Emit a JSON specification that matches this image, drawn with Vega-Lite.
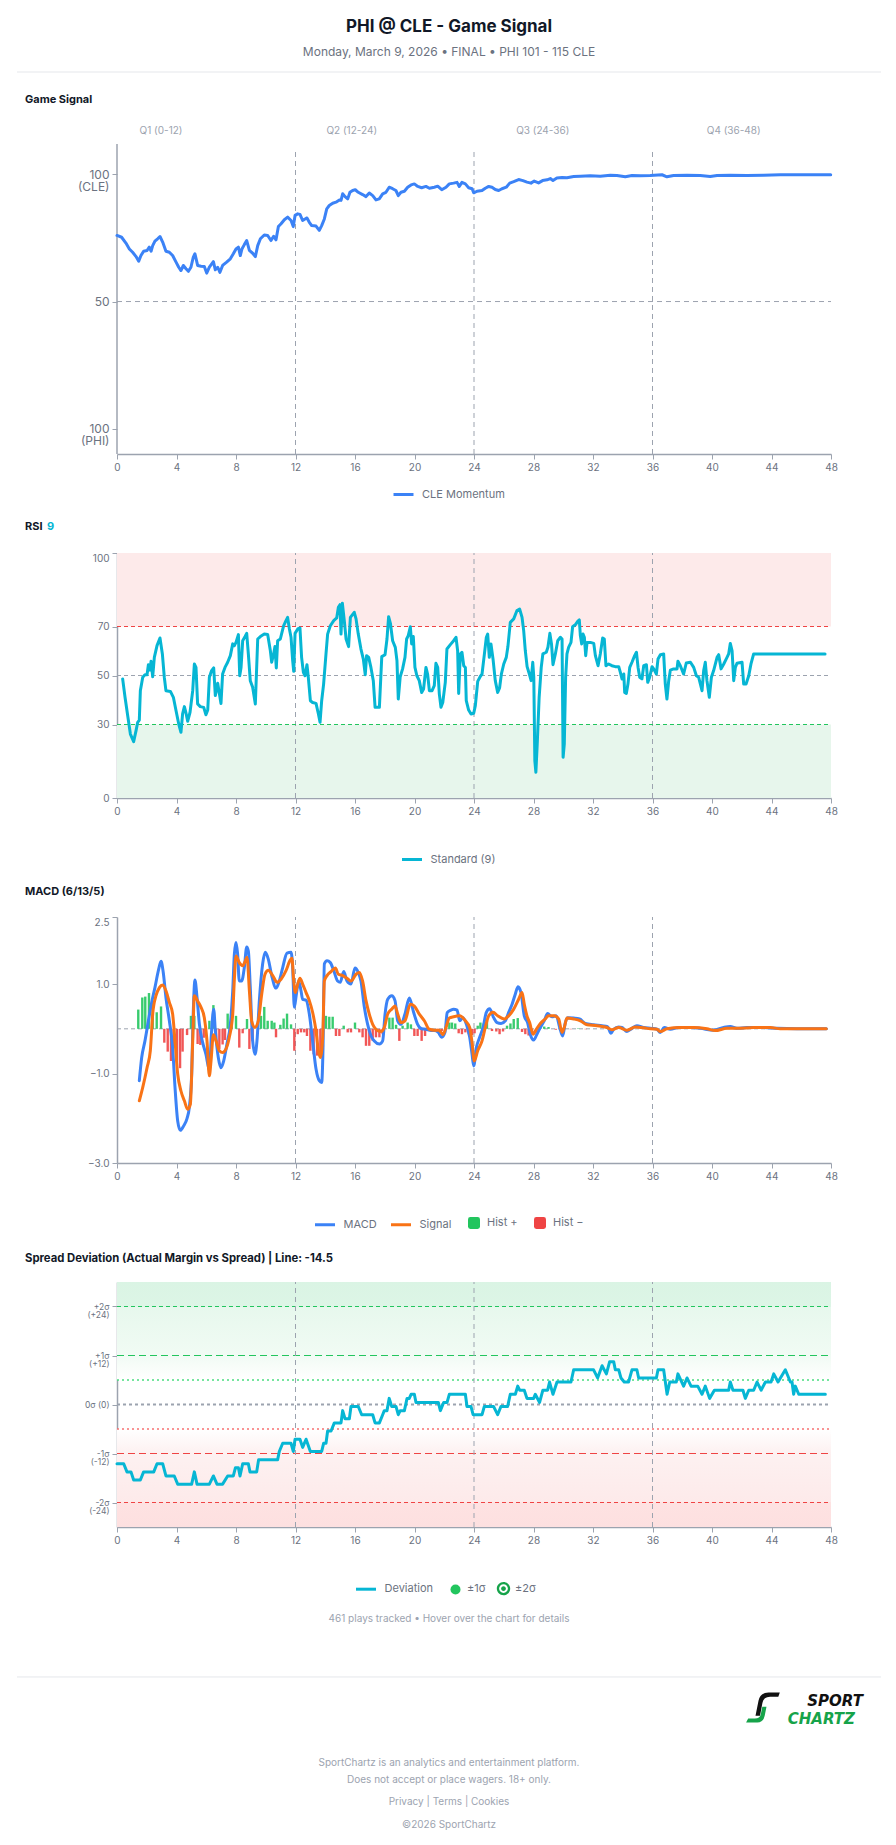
{
  "$schema": "https://vega.github.io/schema/vega-lite/v6.json",
  "background": "#ffffff",
  "padding": {"left": 16, "top": 18, "right": 16, "bottom": 12},
  "config": {
    "font": "Inter",
    "view": {"stroke": null},
    "axis": {"domainColor": "#9ca3af", "domainWidth": 1.5, "tickColor": "#9ca3af", "tickWidth": 1, "tickSize": 5, "labelColor": "#6b7280", "labelFontSize": 10, "labelPadding": 3, "grid": false, "labelFlush": false, "labelOverlap": false},
    "legend": {"labelColor": "#6b7280", "labelFontSize": 11, "padding": 0, "labelOffset": 7, "labelLimit": 0}
  },
  "resolve": {
    "scale": {"color": "independent", "stroke": "independent", "fill": "independent", "shape": "independent"},
    "legend": {"color": "independent", "stroke": "independent", "fill": "independent", "shape": "independent"}
  },
  "datasets": {
    "quarters": [
      {"label": "Q1 (0-12)", "at": 2.96},
      {"label": "Q2 (12-24)", "at": 15.78},
      {"label": "Q3 (24-36)", "at": 28.62},
      {"label": "Q4 (36-48)", "at": 41.46}
    ],
    "breaks": [{"t": 12}, {"t": 24}, {"t": 36}],
    "signal": [
      {"t":0,"v":76.0},{"t":0.31,"v":75.3},{"t":0.6,"v":73.0},{"t":0.83,"v":70.7},{"t":1.05,"v":69.4},{"t":1.28,"v":67.7},{"t":1.46,"v":65.9},{"t":1.61,"v":68.1},{"t":1.79,"v":69.8},{"t":2.02,"v":70.1},{"t":2.17,"v":71.4},{"t":2.29,"v":69.8},{"t":2.4,"v":72.0},{"t":2.55,"v":73.8},{"t":2.73,"v":74.7},{"t":2.89,"v":75.6},{"t":3.07,"v":73.4},{"t":3.29,"v":69.8},{"t":3.52,"v":69.4},{"t":3.74,"v":68.1},{"t":3.97,"v":65.5},{"t":4.15,"v":63.5},{"t":4.3,"v":62.2},{"t":4.46,"v":64.2},{"t":4.64,"v":62.9},{"t":4.8,"v":61.9},{"t":4.97,"v":63.5},{"t":5.13,"v":67.5},{"t":5.24,"v":68.8},{"t":5.42,"v":64.2},{"t":5.65,"v":63.9},{"t":5.87,"v":63.8},{"t":6.03,"v":61.2},{"t":6.21,"v":63.5},{"t":6.48,"v":65.7},{"t":6.61,"v":62.5},{"t":6.77,"v":63.5},{"t":6.92,"v":61.5},{"t":7.1,"v":64.2},{"t":7.37,"v":65.5},{"t":7.62,"v":66.8},{"t":7.82,"v":68.8},{"t":8.0,"v":70.7},{"t":8.16,"v":71.4},{"t":8.29,"v":68.1},{"t":8.4,"v":70.7},{"t":8.56,"v":72.4},{"t":8.72,"v":74.0},{"t":8.9,"v":70.1},{"t":9.12,"v":69.0},{"t":9.3,"v":67.7},{"t":9.46,"v":72.0},{"t":9.64,"v":74.7},{"t":9.9,"v":76.2},{"t":10.13,"v":76.0},{"t":10.35,"v":74.0},{"t":10.53,"v":75.7},{"t":10.69,"v":74.3},{"t":10.85,"v":79.5},{"t":11.03,"v":80.6},{"t":11.25,"v":82.2},{"t":11.47,"v":83.2},{"t":11.7,"v":81.9},{"t":11.85,"v":79.5},{"t":11.97,"v":83.9},{"t":12.15,"v":84.5},{"t":12.3,"v":84.3},{"t":12.48,"v":81.9},{"t":12.64,"v":82.5},{"t":12.77,"v":82.9},{"t":12.93,"v":81.2},{"t":13.09,"v":79.9},{"t":13.38,"v":79.7},{"t":13.6,"v":78.0},{"t":13.76,"v":79.9},{"t":13.94,"v":82.5},{"t":14.1,"v":86.5},{"t":14.27,"v":87.8},{"t":14.5,"v":88.7},{"t":14.72,"v":89.1},{"t":14.95,"v":90.0},{"t":15.06,"v":89.8},{"t":15.17,"v":92.4},{"t":15.33,"v":91.3},{"t":15.51,"v":90.4},{"t":15.66,"v":93.0},{"t":15.84,"v":93.7},{"t":16.02,"v":94.0},{"t":16.22,"v":93.0},{"t":16.51,"v":92.1},{"t":16.74,"v":91.3},{"t":16.96,"v":92.7},{"t":17.19,"v":91.7},{"t":17.41,"v":90.0},{"t":17.63,"v":90.4},{"t":17.86,"v":92.4},{"t":18.08,"v":93.0},{"t":18.3,"v":95.0},{"t":18.53,"v":94.4},{"t":18.75,"v":93.7},{"t":18.91,"v":91.7},{"t":19.09,"v":93.0},{"t":19.32,"v":93.4},{"t":19.54,"v":95.0},{"t":19.77,"v":95.9},{"t":19.99,"v":96.3},{"t":20.22,"v":95.3},{"t":20.48,"v":94.8},{"t":20.77,"v":95.3},{"t":21.0,"v":94.6},{"t":21.33,"v":95.0},{"t":21.56,"v":95.4},{"t":21.83,"v":94.0},{"t":22.12,"v":95.0},{"t":22.34,"v":96.3},{"t":22.63,"v":96.6},{"t":22.86,"v":96.9},{"t":23.01,"v":95.3},{"t":23.19,"v":96.9},{"t":23.42,"v":96.3},{"t":23.64,"v":94.8},{"t":23.87,"v":94.4},{"t":23.98,"v":92.8},{"t":24.2,"v":93.4},{"t":24.54,"v":93.7},{"t":24.76,"v":94.6},{"t":24.99,"v":95.3},{"t":25.21,"v":95.0},{"t":25.43,"v":94.1},{"t":25.66,"v":93.7},{"t":25.88,"v":94.4},{"t":26.17,"v":95.0},{"t":26.4,"v":96.6},{"t":26.67,"v":97.2},{"t":27.0,"v":98.0},{"t":27.29,"v":97.6},{"t":27.56,"v":97.0},{"t":27.83,"v":96.6},{"t":28.05,"v":97.4},{"t":28.34,"v":96.7},{"t":28.61,"v":97.6},{"t":28.91,"v":97.9},{"t":29.13,"v":98.4},{"t":29.31,"v":97.6},{"t":29.57,"v":98.6},{"t":29.92,"v":98.8},{"t":30.25,"v":98.7},{"t":30.7,"v":99.2},{"t":31.15,"v":99.3},{"t":31.82,"v":99.5},{"t":32.49,"v":99.3},{"t":33.16,"v":99.7},{"t":33.61,"v":99.6},{"t":34.17,"v":99.1},{"t":34.62,"v":99.6},{"t":35.18,"v":99.5},{"t":35.85,"v":99.6},{"t":36.64,"v":99.9},{"t":36.97,"v":99.1},{"t":37.42,"v":99.6},{"t":38.32,"v":99.7},{"t":39.21,"v":99.6},{"t":39.88,"v":99.2},{"t":40.34,"v":99.6},{"t":41.23,"v":99.7},{"t":42.35,"v":99.6},{"t":43.47,"v":99.7},{"t":44.59,"v":99.9},{"t":45.71,"v":99.9},{"t":46.84,"v":99.9},{"t":47.98,"v":99.9}
    ],
    "rsi": [
      {"t":0.38,"v":48.6},{"t":0.54,"v":41.1},{"t":0.72,"v":33.6},{"t":0.9,"v":26.1},{"t":1.12,"v":23.0},{"t":1.28,"v":27.5},{"t":1.39,"v":30.9},{"t":1.5,"v":31.8},{"t":1.57,"v":43.8},{"t":1.73,"v":49.3},{"t":1.88,"v":50.3},{"t":2.02,"v":50.3},{"t":2.11,"v":54.4},{"t":2.22,"v":52.2},{"t":2.29,"v":55.8},{"t":2.4,"v":49.5},{"t":2.51,"v":57.4},{"t":2.69,"v":62.2},{"t":2.89,"v":65.3},{"t":3.05,"v":58.8},{"t":3.18,"v":49.3},{"t":3.29,"v":43.8},{"t":3.59,"v":43.5},{"t":3.79,"v":41.1},{"t":3.97,"v":35.6},{"t":4.15,"v":30.2},{"t":4.3,"v":26.8},{"t":4.41,"v":34.3},{"t":4.53,"v":37.3},{"t":4.64,"v":34.6},{"t":4.75,"v":31.3},{"t":4.91,"v":35.0},{"t":5.09,"v":43.8},{"t":5.2,"v":54.7},{"t":5.31,"v":53.3},{"t":5.42,"v":38.4},{"t":5.6,"v":37.3},{"t":5.83,"v":37.0},{"t":5.98,"v":34.0},{"t":6.1,"v":35.9},{"t":6.21,"v":49.3},{"t":6.36,"v":52.0},{"t":6.5,"v":53.1},{"t":6.61,"v":41.8},{"t":6.77,"v":46.8},{"t":6.88,"v":42.7},{"t":6.99,"v":38.6},{"t":7.1,"v":50.6},{"t":7.26,"v":53.3},{"t":7.44,"v":55.4},{"t":7.62,"v":58.1},{"t":7.78,"v":62.9},{"t":7.89,"v":62.2},{"t":8.0,"v":63.5},{"t":8.16,"v":66.7},{"t":8.25,"v":49.9},{"t":8.34,"v":53.3},{"t":8.45,"v":64.2},{"t":8.61,"v":65.9},{"t":8.72,"v":67.2},{"t":8.83,"v":58.8},{"t":8.96,"v":47.9},{"t":9.12,"v":45.2},{"t":9.3,"v":38.4},{"t":9.46,"v":64.9},{"t":9.64,"v":65.9},{"t":9.9,"v":66.9},{"t":10.13,"v":66.7},{"t":10.31,"v":60.1},{"t":10.4,"v":55.4},{"t":10.53,"v":58.8},{"t":10.62,"v":61.8},{"t":10.71,"v":53.1},{"t":10.8,"v":64.2},{"t":10.98,"v":64.9},{"t":11.09,"v":67.6},{"t":11.2,"v":70.3},{"t":11.36,"v":72.4},{"t":11.47,"v":73.7},{"t":11.59,"v":69.0},{"t":11.7,"v":65.6},{"t":11.81,"v":56.1},{"t":11.88,"v":51.7},{"t":11.97,"v":67.2},{"t":12.15,"v":69.0},{"t":12.3,"v":69.4},{"t":12.41,"v":57.4},{"t":12.53,"v":51.3},{"t":12.64,"v":49.9},{"t":12.77,"v":54.4},{"t":12.86,"v":49.3},{"t":13.0,"v":39.7},{"t":13.15,"v":39.0},{"t":13.38,"v":38.6},{"t":13.54,"v":34.3},{"t":13.65,"v":30.9},{"t":13.76,"v":39.7},{"t":13.89,"v":46.5},{"t":14.05,"v":58.8},{"t":14.16,"v":66.9},{"t":14.34,"v":70.3},{"t":14.57,"v":72.4},{"t":14.77,"v":73.5},{"t":14.88,"v":77.8},{"t":14.99,"v":78.9},{"t":15.06,"v":66.9},{"t":15.15,"v":79.5},{"t":15.28,"v":72.4},{"t":15.4,"v":64.9},{"t":15.57,"v":61.8},{"t":15.69,"v":73.7},{"t":15.95,"v":75.8},{"t":16.07,"v":73.1},{"t":16.22,"v":66.9},{"t":16.4,"v":60.8},{"t":16.56,"v":56.7},{"t":16.69,"v":50.3},{"t":16.78,"v":58.1},{"t":16.92,"v":57.4},{"t":17.07,"v":53.3},{"t":17.23,"v":47.9},{"t":17.35,"v":37.0},{"t":17.64,"v":37.0},{"t":17.8,"v":57.7},{"t":18.02,"v":58.5},{"t":18.15,"v":64.9},{"t":18.26,"v":74.0},{"t":18.38,"v":71.3},{"t":18.53,"v":64.2},{"t":18.71,"v":61.5},{"t":18.82,"v":56.1},{"t":18.91,"v":40.4},{"t":19.04,"v":49.5},{"t":19.2,"v":52.7},{"t":19.36,"v":57.4},{"t":19.47,"v":64.9},{"t":19.58,"v":66.3},{"t":19.72,"v":69.9},{"t":19.81,"v":62.9},{"t":19.92,"v":65.9},{"t":20.03,"v":53.3},{"t":20.16,"v":49.9},{"t":20.32,"v":47.9},{"t":20.48,"v":43.1},{"t":20.61,"v":44.5},{"t":20.77,"v":53.3},{"t":20.88,"v":50.6},{"t":21.0,"v":43.8},{"t":21.18,"v":43.8},{"t":21.33,"v":45.9},{"t":21.44,"v":55.0},{"t":21.56,"v":53.3},{"t":21.67,"v":42.4},{"t":21.78,"v":37.0},{"t":21.9,"v":39.0},{"t":22.07,"v":47.2},{"t":22.18,"v":60.8},{"t":22.41,"v":62.6},{"t":22.63,"v":64.2},{"t":22.79,"v":65.6},{"t":22.9,"v":60.1},{"t":22.97,"v":42.7},{"t":23.08,"v":58.8},{"t":23.19,"v":59.5},{"t":23.31,"v":54.0},{"t":23.42,"v":53.3},{"t":23.48,"v":39.7},{"t":23.64,"v":35.9},{"t":23.8,"v":34.3},{"t":23.98,"v":34.6},{"t":24.09,"v":37.7},{"t":24.25,"v":47.6},{"t":24.43,"v":49.7},{"t":24.54,"v":50.6},{"t":24.7,"v":58.8},{"t":24.83,"v":65.6},{"t":24.92,"v":66.9},{"t":25.03,"v":57.4},{"t":25.14,"v":62.9},{"t":25.28,"v":56.7},{"t":25.43,"v":47.9},{"t":25.59,"v":43.1},{"t":25.72,"v":44.9},{"t":25.84,"v":50.6},{"t":26.0,"v":54.7},{"t":26.17,"v":57.4},{"t":26.28,"v":61.8},{"t":26.44,"v":71.7},{"t":26.67,"v":73.1},{"t":26.89,"v":76.5},{"t":27.07,"v":77.1},{"t":27.23,"v":73.7},{"t":27.34,"v":68.3},{"t":27.45,"v":60.1},{"t":27.57,"v":53.6},{"t":27.72,"v":50.6},{"t":27.84,"v":47.9},{"t":27.95,"v":55.4},{"t":28.02,"v":49.3},{"t":28.09,"v":15.2},{"t":28.16,"v":10.5},{"t":28.25,"v":22.0},{"t":28.38,"v":41.1},{"t":28.52,"v":53.3},{"t":28.63,"v":58.8},{"t":28.86,"v":59.5},{"t":28.97,"v":61.5},{"t":29.1,"v":67.2},{"t":29.21,"v":62.9},{"t":29.31,"v":54.4},{"t":29.47,"v":58.8},{"t":29.63,"v":64.2},{"t":29.81,"v":65.6},{"t":29.92,"v":64.9},{"t":29.99,"v":16.6},{"t":30.07,"v":22.0},{"t":30.16,"v":49.3},{"t":30.25,"v":58.8},{"t":30.36,"v":61.5},{"t":30.52,"v":63.5},{"t":30.63,"v":69.9},{"t":30.81,"v":70.7},{"t":30.97,"v":72.1},{"t":31.08,"v":72.7},{"t":31.15,"v":66.3},{"t":31.24,"v":62.9},{"t":31.33,"v":66.9},{"t":31.42,"v":65.6},{"t":31.51,"v":58.1},{"t":31.6,"v":63.5},{"t":31.82,"v":63.5},{"t":32.05,"v":63.1},{"t":32.16,"v":58.1},{"t":32.34,"v":54.0},{"t":32.49,"v":58.8},{"t":32.65,"v":65.3},{"t":32.76,"v":64.9},{"t":32.87,"v":54.0},{"t":33.05,"v":54.7},{"t":33.27,"v":54.0},{"t":33.5,"v":53.6},{"t":33.73,"v":53.6},{"t":33.84,"v":51.3},{"t":33.95,"v":48.6},{"t":34.07,"v":50.6},{"t":34.13,"v":43.1},{"t":34.24,"v":42.7},{"t":34.35,"v":46.5},{"t":34.47,"v":53.3},{"t":34.62,"v":55.4},{"t":34.8,"v":58.1},{"t":34.92,"v":59.5},{"t":35.03,"v":53.3},{"t":35.14,"v":49.3},{"t":35.29,"v":48.6},{"t":35.41,"v":54.0},{"t":35.59,"v":54.4},{"t":35.68,"v":47.2},{"t":35.81,"v":49.3},{"t":35.97,"v":53.6},{"t":36.08,"v":52.7},{"t":36.26,"v":50.6},{"t":36.37,"v":56.7},{"t":36.53,"v":58.5},{"t":36.75,"v":58.8},{"t":36.86,"v":46.5},{"t":36.97,"v":40.4},{"t":37.09,"v":47.9},{"t":37.2,"v":52.2},{"t":37.42,"v":52.7},{"t":37.65,"v":52.7},{"t":37.71,"v":55.8},{"t":37.87,"v":54.0},{"t":38.09,"v":50.6},{"t":38.27,"v":55.1},{"t":38.55,"v":55.4},{"t":38.77,"v":53.3},{"t":38.95,"v":49.9},{"t":39.1,"v":49.3},{"t":39.22,"v":46.5},{"t":39.33,"v":43.8},{"t":39.44,"v":52.0},{"t":39.55,"v":55.4},{"t":39.66,"v":47.9},{"t":39.82,"v":41.1},{"t":39.96,"v":49.3},{"t":40.11,"v":52.0},{"t":40.34,"v":57.4},{"t":40.45,"v":58.5},{"t":40.61,"v":52.7},{"t":40.79,"v":54.7},{"t":41.01,"v":57.4},{"t":41.12,"v":58.8},{"t":41.23,"v":63.1},{"t":41.35,"v":60.1},{"t":41.46,"v":47.9},{"t":41.57,"v":53.3},{"t":41.68,"v":55.0},{"t":42.02,"v":55.4},{"t":42.13,"v":46.5},{"t":42.29,"v":46.5},{"t":42.47,"v":49.9},{"t":42.62,"v":54.7},{"t":42.8,"v":58.8},{"t":47.6,"v":58.8}
    ],
    "macd": [
      {"s":"MACD","t":1.5,"v":-1.16},{"s":"MACD","t":1.66,"v":-0.64},{"s":"MACD","t":1.88,"v":-0.27},{"s":"MACD","t":2.11,"v":0.18},{"s":"MACD","t":2.33,"v":0.59},{"s":"MACD","t":2.55,"v":0.92},{"s":"MACD","t":2.78,"v":1.3},{"s":"MACD","t":2.96,"v":1.51},{"s":"MACD","t":3.11,"v":1.26},{"s":"MACD","t":3.29,"v":0.7},{"s":"MACD","t":3.52,"v":0.18},{"s":"MACD","t":3.74,"v":-0.42},{"s":"MACD","t":3.9,"v":-1.31},{"s":"MACD","t":4.08,"v":-2.06},{"s":"MACD","t":4.26,"v":-2.27},{"s":"MACD","t":4.48,"v":-2.17},{"s":"MACD","t":4.71,"v":-2.0},{"s":"MACD","t":4.86,"v":-1.76},{"s":"MACD","t":5.02,"v":-1.01},{"s":"MACD","t":5.11,"v":0.18},{"s":"MACD","t":5.24,"v":1.09},{"s":"MACD","t":5.38,"v":0.7},{"s":"MACD","t":5.54,"v":0.1},{"s":"MACD","t":5.76,"v":-0.31},{"s":"MACD","t":5.98,"v":-0.57},{"s":"MACD","t":6.21,"v":-0.92},{"s":"MACD","t":6.36,"v":-0.04},{"s":"MACD","t":6.5,"v":0.44},{"s":"MACD","t":6.61,"v":-0.04},{"s":"MACD","t":6.81,"v":-0.64},{"s":"MACD","t":6.99,"v":-0.87},{"s":"MACD","t":7.17,"v":-0.72},{"s":"MACD","t":7.39,"v":-0.34},{"s":"MACD","t":7.62,"v":0.1},{"s":"MACD","t":7.78,"v":0.85},{"s":"MACD","t":7.89,"v":1.67},{"s":"MACD","t":8.0,"v":1.93},{"s":"MACD","t":8.11,"v":1.67},{"s":"MACD","t":8.22,"v":1.07},{"s":"MACD","t":8.38,"v":1.07},{"s":"MACD","t":8.56,"v":1.37},{"s":"MACD","t":8.72,"v":1.83},{"s":"MACD","t":8.83,"v":1.74},{"s":"MACD","t":8.96,"v":0.92},{"s":"MACD","t":9.12,"v":-0.27},{"s":"MACD","t":9.28,"v":-0.57},{"s":"MACD","t":9.41,"v":-0.27},{"s":"MACD","t":9.57,"v":0.63},{"s":"MACD","t":9.79,"v":1.45},{"s":"MACD","t":9.97,"v":1.71},{"s":"MACD","t":10.17,"v":1.56},{"s":"MACD","t":10.4,"v":1.19},{"s":"MACD","t":10.69,"v":0.91},{"s":"MACD","t":10.91,"v":1.07},{"s":"MACD","t":11.14,"v":1.37},{"s":"MACD","t":11.43,"v":1.69},{"s":"MACD","t":11.7,"v":1.71},{"s":"MACD","t":11.81,"v":1.37},{"s":"MACD","t":11.92,"v":0.48},{"s":"MACD","t":12.06,"v":0.78},{"s":"MACD","t":12.21,"v":1.07},{"s":"MACD","t":12.37,"v":0.85},{"s":"MACD","t":12.48,"v":0.66},{"s":"MACD","t":12.71,"v":0.64},{"s":"MACD","t":12.93,"v":0.33},{"s":"MACD","t":13.15,"v":-0.27},{"s":"MACD","t":13.38,"v":-0.9},{"s":"MACD","t":13.6,"v":-1.16},{"s":"MACD","t":13.76,"v":-1.2},{"s":"MACD","t":13.85,"v":-0.42},{"s":"MACD","t":13.94,"v":1.45},{"s":"MACD","t":14.12,"v":1.52},{"s":"MACD","t":14.34,"v":1.48},{"s":"MACD","t":14.57,"v":1.3},{"s":"MACD","t":14.83,"v":1.07},{"s":"MACD","t":15.01,"v":1.04},{"s":"MACD","t":15.24,"v":1.28},{"s":"MACD","t":15.46,"v":1.07},{"s":"MACD","t":15.73,"v":1.0},{"s":"MACD","t":16.0,"v":1.36},{"s":"MACD","t":16.22,"v":1.26},{"s":"MACD","t":16.4,"v":1.07},{"s":"MACD","t":16.63,"v":0.48},{"s":"MACD","t":16.85,"v":0.1},{"s":"MACD","t":17.08,"v":-0.16},{"s":"MACD","t":17.3,"v":-0.27},{"s":"MACD","t":17.64,"v":-0.34},{"s":"MACD","t":17.86,"v":-0.27},{"s":"MACD","t":18.02,"v":0.33},{"s":"MACD","t":18.2,"v":0.66},{"s":"MACD","t":18.47,"v":0.74},{"s":"MACD","t":18.69,"v":0.63},{"s":"MACD","t":18.87,"v":0.18},{"s":"MACD","t":19.09,"v":0.1},{"s":"MACD","t":19.36,"v":0.33},{"s":"MACD","t":19.65,"v":0.69},{"s":"MACD","t":19.94,"v":0.37},{"s":"MACD","t":20.21,"v":0.1},{"s":"MACD","t":20.48,"v":0.0},{"s":"MACD","t":20.77,"v":-0.01},{"s":"MACD","t":21.11,"v":-0.04},{"s":"MACD","t":21.33,"v":-0.04},{"s":"MACD","t":21.6,"v":-0.08},{"s":"MACD","t":21.83,"v":-0.19},{"s":"MACD","t":22.05,"v":-0.08},{"s":"MACD","t":22.2,"v":0.36},{"s":"MACD","t":22.45,"v":0.42},{"s":"MACD","t":22.63,"v":0.44},{"s":"MACD","t":22.86,"v":0.42},{"s":"MACD","t":23.04,"v":0.18},{"s":"MACD","t":23.26,"v":0.25},{"s":"MACD","t":23.49,"v":0.1},{"s":"MACD","t":23.71,"v":-0.19},{"s":"MACD","t":23.87,"v":-0.57},{"s":"MACD","t":23.98,"v":-0.83},{"s":"MACD","t":24.16,"v":-0.42},{"s":"MACD","t":24.38,"v":-0.19},{"s":"MACD","t":24.61,"v":0.03},{"s":"MACD","t":24.83,"v":0.37},{"s":"MACD","t":25.05,"v":0.45},{"s":"MACD","t":25.32,"v":0.25},{"s":"MACD","t":25.55,"v":0.14},{"s":"MACD","t":25.82,"v":0.12},{"s":"MACD","t":26.11,"v":0.18},{"s":"MACD","t":26.33,"v":0.37},{"s":"MACD","t":26.56,"v":0.55},{"s":"MACD","t":26.78,"v":0.78},{"s":"MACD","t":26.96,"v":0.94},{"s":"MACD","t":27.16,"v":0.81},{"s":"MACD","t":27.38,"v":0.29},{"s":"MACD","t":27.6,"v":0.14},{"s":"MACD","t":27.78,"v":-0.12},{"s":"MACD","t":28.01,"v":-0.25},{"s":"MACD","t":28.23,"v":-0.12},{"s":"MACD","t":28.46,"v":0.03},{"s":"MACD","t":28.72,"v":0.18},{"s":"MACD","t":28.95,"v":0.34},{"s":"MACD","t":29.24,"v":0.27},{"s":"MACD","t":29.53,"v":0.29},{"s":"MACD","t":29.76,"v":0.03},{"s":"MACD","t":29.96,"v":-0.16},{"s":"MACD","t":30.14,"v":0.14},{"s":"MACD","t":30.29,"v":0.25},{"s":"MACD","t":30.7,"v":0.24},{"s":"MACD","t":31.1,"v":0.22},{"s":"MACD","t":31.48,"v":0.12},{"s":"MACD","t":32.04,"v":0.09},{"s":"MACD","t":32.6,"v":0.07},{"s":"MACD","t":32.98,"v":0.05},{"s":"MACD","t":33.21,"v":-0.1},{"s":"MACD","t":33.39,"v":-0.01},{"s":"MACD","t":33.72,"v":0.04},{"s":"MACD","t":33.95,"v":0.03},{"s":"MACD","t":34.28,"v":-0.06},{"s":"MACD","t":34.62,"v":0.01},{"s":"MACD","t":34.95,"v":0.07},{"s":"MACD","t":35.4,"v":0.03},{"s":"MACD","t":35.96,"v":0.01},{"s":"MACD","t":36.3,"v":-0.01},{"s":"MACD","t":36.52,"v":-0.08},{"s":"MACD","t":36.79,"v":0.03},{"s":"MACD","t":37.2,"v":-0.01},{"s":"MACD","t":37.76,"v":0.03},{"s":"MACD","t":38.54,"v":0.03},{"s":"MACD","t":39.22,"v":0.01},{"s":"MACD","t":40.11,"v":-0.03},{"s":"MACD","t":40.78,"v":0.03},{"s":"MACD","t":41.23,"v":0.05},{"s":"MACD","t":41.68,"v":0.01},{"s":"MACD","t":42.35,"v":0.03},{"s":"MACD","t":43.47,"v":0.03},{"s":"MACD","t":44.37,"v":0.01},{"s":"MACD","t":45.71,"v":0.0},{"s":"MACD","t":47.68,"v":0.0},
      {"s":"Signal","t":1.5,"v":-1.61},{"s":"Signal","t":1.73,"v":-1.31},{"s":"Signal","t":2.02,"v":-0.87},{"s":"Signal","t":2.24,"v":-0.49},{"s":"Signal","t":2.4,"v":0.33},{"s":"Signal","t":2.62,"v":0.74},{"s":"Signal","t":2.85,"v":0.92},{"s":"Signal","t":3.07,"v":0.98},{"s":"Signal","t":3.29,"v":0.85},{"s":"Signal","t":3.52,"v":0.59},{"s":"Signal","t":3.74,"v":0.33},{"s":"Signal","t":3.9,"v":-0.27},{"s":"Signal","t":4.08,"v":-1.01},{"s":"Signal","t":4.3,"v":-1.39},{"s":"Signal","t":4.53,"v":-1.61},{"s":"Signal","t":4.75,"v":-1.8},{"s":"Signal","t":4.93,"v":-1.69},{"s":"Signal","t":5.09,"v":-0.27},{"s":"Signal","t":5.2,"v":0.74},{"s":"Signal","t":5.42,"v":0.62},{"s":"Signal","t":5.65,"v":0.48},{"s":"Signal","t":5.87,"v":0.25},{"s":"Signal","t":6.05,"v":-0.27},{"s":"Signal","t":6.21,"v":-1.05},{"s":"Signal","t":6.32,"v":-0.72},{"s":"Signal","t":6.48,"v":-0.13},{"s":"Signal","t":6.66,"v":-0.27},{"s":"Signal","t":6.88,"v":-0.49},{"s":"Signal","t":7.1,"v":-0.53},{"s":"Signal","t":7.33,"v":-0.45},{"s":"Signal","t":7.55,"v":-0.19},{"s":"Signal","t":7.78,"v":0.33},{"s":"Signal","t":7.89,"v":1.11},{"s":"Signal","t":8.0,"v":1.63},{"s":"Signal","t":8.22,"v":1.48},{"s":"Signal","t":8.45,"v":1.41},{"s":"Signal","t":8.63,"v":1.52},{"s":"Signal","t":8.74,"v":1.6},{"s":"Signal","t":8.9,"v":0.85},{"s":"Signal","t":9.05,"v":0.18},{"s":"Signal","t":9.28,"v":0.03},{"s":"Signal","t":9.5,"v":0.18},{"s":"Signal","t":9.73,"v":0.78},{"s":"Signal","t":9.95,"v":1.22},{"s":"Signal","t":10.17,"v":1.31},{"s":"Signal","t":10.47,"v":1.19},{"s":"Signal","t":10.76,"v":1.04},{"s":"Signal","t":11.03,"v":1.11},{"s":"Signal","t":11.36,"v":1.3},{"s":"Signal","t":11.65,"v":1.54},{"s":"Signal","t":11.76,"v":1.58},{"s":"Signal","t":11.88,"v":1.07},{"s":"Signal","t":11.99,"v":0.81},{"s":"Signal","t":12.15,"v":1.0},{"s":"Signal","t":12.3,"v":1.13},{"s":"Signal","t":12.48,"v":1.0},{"s":"Signal","t":12.71,"v":0.81},{"s":"Signal","t":12.93,"v":0.63},{"s":"Signal","t":13.15,"v":0.37},{"s":"Signal","t":13.38,"v":-0.05},{"s":"Signal","t":13.54,"v":-0.49},{"s":"Signal","t":13.67,"v":-0.64},{"s":"Signal","t":13.83,"v":-0.19},{"s":"Signal","t":13.94,"v":1.07},{"s":"Signal","t":14.12,"v":1.19},{"s":"Signal","t":14.39,"v":1.28},{"s":"Signal","t":14.68,"v":1.36},{"s":"Signal","t":14.88,"v":1.22},{"s":"Signal","t":15.17,"v":1.19},{"s":"Signal","t":15.46,"v":1.13},{"s":"Signal","t":15.73,"v":1.07},{"s":"Signal","t":16.07,"v":1.22},{"s":"Signal","t":16.29,"v":1.26},{"s":"Signal","t":16.51,"v":1.07},{"s":"Signal","t":16.74,"v":0.63},{"s":"Signal","t":16.96,"v":0.33},{"s":"Signal","t":17.19,"v":0.1},{"s":"Signal","t":17.41,"v":-0.01},{"s":"Signal","t":17.75,"v":-0.06},{"s":"Signal","t":17.97,"v":0.03},{"s":"Signal","t":18.2,"v":0.33},{"s":"Signal","t":18.47,"v":0.44},{"s":"Signal","t":18.69,"v":0.51},{"s":"Signal","t":18.87,"v":0.33},{"s":"Signal","t":19.09,"v":0.14},{"s":"Signal","t":19.36,"v":0.18},{"s":"Signal","t":19.72,"v":0.55},{"s":"Signal","t":19.99,"v":0.51},{"s":"Signal","t":20.32,"v":0.33},{"s":"Signal","t":20.66,"v":0.18},{"s":"Signal","t":20.99,"v":-0.01},{"s":"Signal","t":21.33,"v":-0.03},{"s":"Signal","t":21.67,"v":-0.03},{"s":"Signal","t":21.9,"v":-0.13},{"s":"Signal","t":22.12,"v":0.03},{"s":"Signal","t":22.34,"v":0.24},{"s":"Signal","t":22.63,"v":0.27},{"s":"Signal","t":23.04,"v":0.29},{"s":"Signal","t":23.42,"v":0.18},{"s":"Signal","t":23.71,"v":0.03},{"s":"Signal","t":23.87,"v":-0.31},{"s":"Signal","t":24.02,"v":-0.72},{"s":"Signal","t":24.25,"v":-0.49},{"s":"Signal","t":24.54,"v":-0.27},{"s":"Signal","t":24.76,"v":0.03},{"s":"Signal","t":24.99,"v":0.29},{"s":"Signal","t":25.28,"v":0.37},{"s":"Signal","t":25.59,"v":0.29},{"s":"Signal","t":26.04,"v":0.22},{"s":"Signal","t":26.33,"v":0.29},{"s":"Signal","t":26.67,"v":0.44},{"s":"Signal","t":27.0,"v":0.66},{"s":"Signal","t":27.23,"v":0.81},{"s":"Signal","t":27.38,"v":0.55},{"s":"Signal","t":27.56,"v":0.29},{"s":"Signal","t":27.74,"v":0.14},{"s":"Signal","t":27.97,"v":-0.12},{"s":"Signal","t":28.19,"v":-0.01},{"s":"Signal","t":28.46,"v":0.12},{"s":"Signal","t":28.79,"v":0.22},{"s":"Signal","t":29.01,"v":0.29},{"s":"Signal","t":29.39,"v":0.29},{"s":"Signal","t":29.69,"v":0.22},{"s":"Signal","t":29.92,"v":-0.08},{"s":"Signal","t":30.07,"v":0.03},{"s":"Signal","t":30.25,"v":0.24},{"s":"Signal","t":30.7,"v":0.22},{"s":"Signal","t":31.15,"v":0.18},{"s":"Signal","t":31.6,"v":0.09},{"s":"Signal","t":32.27,"v":0.07},{"s":"Signal","t":32.94,"v":0.03},{"s":"Signal","t":33.27,"v":-0.02},{"s":"Signal","t":33.72,"v":0.03},{"s":"Signal","t":34.28,"v":-0.03},{"s":"Signal","t":34.84,"v":0.04},{"s":"Signal","t":35.63,"v":0.01},{"s":"Signal","t":36.3,"v":-0.01},{"s":"Signal","t":36.52,"v":-0.06},{"s":"Signal","t":36.98,"v":0.0},{"s":"Signal","t":37.87,"v":0.03},{"s":"Signal","t":38.77,"v":0.03},{"s":"Signal","t":39.66,"v":0.0},{"s":"Signal","t":40.22,"v":-0.04},{"s":"Signal","t":41.01,"v":0.01},{"s":"Signal","t":41.68,"v":0.01},{"s":"Signal","t":42.8,"v":0.03},{"s":"Signal","t":43.92,"v":0.03},{"s":"Signal","t":44.59,"v":0.0},{"s":"Signal","t":47.68,"v":0.0}
    ],
    "hist": [
      {"t":1.43,"h":0.43,"k":"Hist +"},{"t":1.7,"h":0.7,"k":"Hist +"},{"t":1.9,"h":0.72,"k":"Hist +"},{"t":2.15,"h":0.8,"k":"Hist +"},{"t":2.4,"h":0.6,"k":"Hist +"},{"t":2.67,"h":0.37,"k":"Hist +"},{"t":2.96,"h":0.5,"k":"Hist +"},{"t":3.18,"h":-0.31,"k":"Hist −"},{"t":3.41,"h":-0.51,"k":"Hist −"},{"t":3.63,"h":-0.72,"k":"Hist −"},{"t":3.81,"h":-0.42,"k":"Hist −"},{"t":4.03,"h":-0.73,"k":"Hist −"},{"t":4.24,"h":-0.88,"k":"Hist −"},{"t":4.41,"h":-0.51,"k":"Hist −"},{"t":4.71,"h":-0.14,"k":"Hist −"},{"t":4.97,"h":0.29,"k":"Hist +"},{"t":5.2,"h":0.29,"k":"Hist +"},{"t":5.42,"h":-0.34,"k":"Hist −"},{"t":5.6,"h":-0.36,"k":"Hist −"},{"t":5.83,"h":-0.2,"k":"Hist −"},{"t":6.21,"h":0.18,"k":"Hist +"},{"t":6.48,"h":0.53,"k":"Hist +"},{"t":6.66,"h":-0.27,"k":"Hist −"},{"t":6.88,"h":-0.45,"k":"Hist −"},{"t":7.1,"h":-0.35,"k":"Hist −"},{"t":7.26,"h":-0.25,"k":"Hist −"},{"t":7.44,"h":0.34,"k":"Hist +"},{"t":7.71,"h":0.25,"k":"Hist +"},{"t":8.0,"h":0.29,"k":"Hist +"},{"t":8.22,"h":-0.42,"k":"Hist −"},{"t":8.45,"h":-0.1,"k":"Hist −"},{"t":8.74,"h":0.22,"k":"Hist +"},{"t":8.9,"h":-0.45,"k":"Hist −"},{"t":9.12,"h":-0.27,"k":"Hist −"},{"t":9.68,"h":0.29,"k":"Hist +"},{"t":9.9,"h":0.49,"k":"Hist +"},{"t":10.13,"h":0.18,"k":"Hist +"},{"t":10.4,"h":0.18,"k":"Hist +"},{"t":10.58,"h":0.14,"k":"Hist +"},{"t":10.69,"h":-0.19,"k":"Hist −"},{"t":10.98,"h":0.09,"k":"Hist +"},{"t":11.2,"h":0.23,"k":"Hist +"},{"t":11.43,"h":0.34,"k":"Hist +"},{"t":11.7,"h":0.1,"k":"Hist +"},{"t":11.92,"h":-0.49,"k":"Hist −"},{"t":12.15,"h":-0.12,"k":"Hist −"},{"t":12.37,"h":-0.08,"k":"Hist −"},{"t":12.59,"h":-0.08,"k":"Hist −"},{"t":12.77,"h":-0.16,"k":"Hist −"},{"t":13.0,"h":-0.49,"k":"Hist −"},{"t":13.22,"h":-0.57,"k":"Hist −"},{"t":13.45,"h":-0.6,"k":"Hist −"},{"t":13.67,"h":-0.57,"k":"Hist −"},{"t":14.05,"h":0.29,"k":"Hist +"},{"t":14.27,"h":0.27,"k":"Hist +"},{"t":14.5,"h":0.27,"k":"Hist +"},{"t":14.72,"h":-0.16,"k":"Hist −"},{"t":14.95,"h":-0.16,"k":"Hist −"},{"t":15.24,"h":0.07,"k":"Hist +"},{"t":15.51,"h":-0.08,"k":"Hist −"},{"t":15.73,"h":-0.08,"k":"Hist −"},{"t":16.0,"h":0.14,"k":"Hist +"},{"t":16.29,"h":-0.08,"k":"Hist −"},{"t":16.51,"h":-0.19,"k":"Hist −"},{"t":16.74,"h":-0.38,"k":"Hist −"},{"t":16.96,"h":-0.38,"k":"Hist −"},{"t":17.19,"h":-0.27,"k":"Hist −"},{"t":17.41,"h":-0.19,"k":"Hist −"},{"t":17.64,"h":-0.19,"k":"Hist −"},{"t":17.86,"h":-0.12,"k":"Hist −"},{"t":18.31,"h":0.25,"k":"Hist +"},{"t":18.53,"h":0.25,"k":"Hist +"},{"t":18.76,"h":0.09,"k":"Hist +"},{"t":18.98,"h":-0.27,"k":"Hist −"},{"t":19.2,"h":0.07,"k":"Hist +"},{"t":19.54,"h":0.14,"k":"Hist +"},{"t":19.76,"h":0.1,"k":"Hist +"},{"t":19.99,"h":-0.16,"k":"Hist −"},{"t":20.21,"h":-0.16,"k":"Hist −"},{"t":20.48,"h":-0.27,"k":"Hist −"},{"t":20.71,"h":-0.16,"k":"Hist −"},{"t":21.11,"h":-0.03,"k":"Hist −"},{"t":21.56,"h":-0.03,"k":"Hist −"},{"t":21.83,"h":-0.05,"k":"Hist −"},{"t":22.34,"h":0.14,"k":"Hist +"},{"t":22.52,"h":0.14,"k":"Hist +"},{"t":22.74,"h":0.12,"k":"Hist +"},{"t":22.97,"h":-0.1,"k":"Hist −"},{"t":23.19,"h":-0.12,"k":"Hist −"},{"t":23.42,"h":-0.08,"k":"Hist −"},{"t":23.64,"h":-0.12,"k":"Hist −"},{"t":23.87,"h":-0.14,"k":"Hist −"},{"t":24.04,"h":-0.1,"k":"Hist −"},{"t":24.25,"h":0.07,"k":"Hist +"},{"t":24.43,"h":0.14,"k":"Hist +"},{"t":24.65,"h":0.12,"k":"Hist +"},{"t":24.87,"h":0.18,"k":"Hist +"},{"t":25.21,"h":-0.05,"k":"Hist −"},{"t":25.5,"h":-0.06,"k":"Hist −"},{"t":25.72,"h":-0.12,"k":"Hist −"},{"t":25.95,"h":-0.06,"k":"Hist −"},{"t":26.22,"h":0.07,"k":"Hist +"},{"t":26.45,"h":0.12,"k":"Hist +"},{"t":26.67,"h":0.22,"k":"Hist +"},{"t":26.94,"h":0.24,"k":"Hist +"},{"t":27.23,"h":-0.07,"k":"Hist −"},{"t":27.45,"h":-0.12,"k":"Hist −"},{"t":27.67,"h":-0.15,"k":"Hist −"},{"t":27.9,"h":-0.12,"k":"Hist −"},{"t":28.19,"h":-0.08,"k":"Hist −"},{"t":28.46,"h":0.03,"k":"Hist +"},{"t":28.72,"h":0.05,"k":"Hist +"},{"t":29.01,"h":0.04,"k":"Hist +"},{"t":29.5,"h":-0.02,"k":"Hist −"},{"t":30.0,"h":0.02,"k":"Hist +"},{"t":30.5,"h":-0.01,"k":"Hist −"},{"t":31.0,"h":0.01,"k":"Hist +"},{"t":31.5,"h":-0.01,"k":"Hist −"}
    ],
    "dev": [
      {"t":0,"v":-14.5},{"t":0.45,"v":-14.5},{"t":0.67,"v":-16.5},{"t":0.94,"v":-16.5},{"t":1.12,"v":-18.5},{"t":1.57,"v":-18.5},{"t":1.79,"v":-16.5},{"t":2.47,"v":-16.5},{"t":2.69,"v":-14.5},{"t":3.07,"v":-14.5},{"t":3.29,"v":-17.5},{"t":3.85,"v":-17.5},{"t":4.08,"v":-19.5},{"t":5.02,"v":-19.5},{"t":5.2,"v":-16.5},{"t":5.38,"v":-19.5},{"t":6.21,"v":-19.5},{"t":6.48,"v":-17.5},{"t":6.72,"v":-19.5},{"t":7.1,"v":-19.5},{"t":7.44,"v":-17.5},{"t":7.82,"v":-17.5},{"t":7.96,"v":-15.5},{"t":8.16,"v":-15.5},{"t":8.27,"v":-17.5},{"t":8.45,"v":-14.5},{"t":8.83,"v":-14.5},{"t":8.94,"v":-16.5},{"t":9.39,"v":-16.5},{"t":9.52,"v":-13.5},{"t":10.8,"v":-13.5},{"t":10.91,"v":-11.5},{"t":11.14,"v":-9.5},{"t":11.7,"v":-9.5},{"t":11.85,"v":-11.5},{"t":11.97,"v":-8.5},{"t":12.3,"v":-8.5},{"t":12.48,"v":-10.5},{"t":12.71,"v":-8.5},{"t":13.0,"v":-11.5},{"t":13.76,"v":-11.5},{"t":13.89,"v":-9.5},{"t":14.05,"v":-9.5},{"t":14.16,"v":-6.5},{"t":14.39,"v":-6.5},{"t":14.61,"v":-4.5},{"t":15.06,"v":-4.5},{"t":15.17,"v":-1.5},{"t":15.33,"v":-3.5},{"t":15.62,"v":-3.5},{"t":15.73,"v":-0.5},{"t":16.22,"v":-0.5},{"t":16.45,"v":-2.5},{"t":17.19,"v":-2.5},{"t":17.35,"v":-4.5},{"t":17.64,"v":-4.5},{"t":17.86,"v":-2.5},{"t":17.97,"v":-1.5},{"t":18.15,"v":-1.5},{"t":18.3,"v":1.5},{"t":18.47,"v":-0.5},{"t":18.76,"v":-0.5},{"t":18.91,"v":-2.5},{"t":19.04,"v":-1.5},{"t":19.32,"v":-1.5},{"t":19.5,"v":1.5},{"t":19.65,"v":1.5},{"t":19.77,"v":2.5},{"t":19.99,"v":2.5},{"t":20.1,"v":0.5},{"t":21.6,"v":0.5},{"t":21.74,"v":-1.5},{"t":21.96,"v":0.5},{"t":22.19,"v":0.5},{"t":22.34,"v":2.5},{"t":23.42,"v":2.5},{"t":23.53,"v":-0.5},{"t":23.8,"v":-0.5},{"t":23.94,"v":-2.5},{"t":24.54,"v":-2.5},{"t":24.69,"v":-0.5},{"t":25.32,"v":-0.5},{"t":25.59,"v":-2.5},{"t":25.81,"v":-0.5},{"t":26.26,"v":-0.5},{"t":26.44,"v":2.5},{"t":26.78,"v":2.5},{"t":26.94,"v":4.5},{"t":27.07,"v":3.5},{"t":27.38,"v":3.5},{"t":27.56,"v":1.5},{"t":28.01,"v":1.5},{"t":28.12,"v":2.5},{"t":28.41,"v":0.5},{"t":28.63,"v":3.5},{"t":28.95,"v":3.5},{"t":29.08,"v":5.5},{"t":29.31,"v":2.5},{"t":29.58,"v":5.5},{"t":30.52,"v":5.5},{"t":30.7,"v":8.5},{"t":32.04,"v":8.5},{"t":32.31,"v":6.5},{"t":32.61,"v":9.5},{"t":32.9,"v":7.5},{"t":33.12,"v":10.5},{"t":33.39,"v":10.5},{"t":33.5,"v":8.5},{"t":33.73,"v":8.5},{"t":33.88,"v":6.5},{"t":34.1,"v":5.5},{"t":34.39,"v":5.5},{"t":34.62,"v":8.5},{"t":34.95,"v":8.5},{"t":35.07,"v":6.5},{"t":36.26,"v":6.5},{"t":36.37,"v":8.5},{"t":36.75,"v":8.5},{"t":36.98,"v":2.5},{"t":37.16,"v":5.5},{"t":37.6,"v":5.5},{"t":37.71,"v":7.5},{"t":38.09,"v":4.5},{"t":38.32,"v":6.5},{"t":38.59,"v":4.5},{"t":39.04,"v":4.5},{"t":39.33,"v":2.5},{"t":39.55,"v":4.5},{"t":39.84,"v":1.5},{"t":40.16,"v":3.5},{"t":41.12,"v":3.5},{"t":41.23,"v":5.5},{"t":41.41,"v":3.5},{"t":42.08,"v":3.5},{"t":42.24,"v":1.5},{"t":42.47,"v":3.5},{"t":42.8,"v":3.5},{"t":43.03,"v":5.5},{"t":43.3,"v":3.5},{"t":43.59,"v":5.5},{"t":43.97,"v":5.5},{"t":44.15,"v":7.5},{"t":44.44,"v":5.5},{"t":44.93,"v":8.5},{"t":45.27,"v":5.5},{"t":45.38,"v":5.5},{"t":45.49,"v":2.5},{"t":45.6,"v":4.5},{"t":45.83,"v":2.5},{"t":47.62,"v":2.5}
    ]
  },
  "columns": 1,
  "align": "each",
  "bounds": "flush",
  "spacing": 119,
  "concat": [
    {
      "width": 714,
      "height": 290,
      "layer": [
        {"data": {"values": [{}]}, "mark": {"type": "rule", "color": "#e5e7eb", "strokeWidth": 1}, "encoding": {"x": {"datum": -6.7227}, "x2": {"datum": 51.3613}, "y": {"datum": 140.34}}},
        {"data": {"values": [{}]}, "mark": {"type": "text", "text": "PHI @ CLE - Game Signal", "fontSize": 17, "fontWeight": 700, "color": "#111827", "align": "center", "baseline": "middle"}, "encoding": {"x": {"datum": 22.3193}, "y": {"datum": 158.04}}},
        {"data": {"values": [{}]}, "mark": {"type": "text", "text": "Monday, March 9, 2026 • FINAL • PHI 101 - 115 CLE", "fontSize": 12, "color": "#6b7280", "align": "center", "baseline": "middle"}, "encoding": {"x": {"datum": 22.3193}, "y": {"datum": 148.21}}},
        {"data": {"values": [{}]}, "mark": {"type": "text", "text": "Game Signal", "fontSize": 11, "fontWeight": 700, "color": "#111827", "align": "left", "baseline": "middle"}, "encoding": {"x": {"datum": -6.185}, "y": {"datum": 129.51}}},
        {"data": {"name": "quarters"}, "mark": {"type": "text", "fontSize": 10, "color": "#9ca3af", "align": "center", "baseline": "middle"}, "encoding": {"x": {"field": "at", "type": "quantitative"}, "y": {"datum": 117.23}, "text": {"field": "label", "type": "nominal"}}},
        {"data": {"name": "breaks"}, "mark": {"type": "rule", "color": "#9ca3af", "strokeWidth": 1, "strokeDash": [5, 4]}, "encoding": {"x": {"field": "t", "type": "quantitative"}, "y": {"datum": -10}, "y2": {"datum": 110.03}}},
        {"data": {"values": [{}]}, "mark": {"type": "rule", "color": "#9ca3af", "strokeWidth": 1, "strokeDash": [5, 4]}, "encoding": {"x": {"datum": 0}, "x2": {"datum": 48}, "y": {"datum": 50}}},
        {"data": {"values": [{}]}, "mark": {"type": "rule", "color": "#9ca3af", "strokeWidth": 1.5}, "encoding": {"x": {"datum": 0}, "y": {"datum": -10}, "y2": {"datum": 112}}},
        {
          "data": {"name": "signal"},
          "mark": {"type": "line", "strokeWidth": 3, "strokeJoin": "round", "strokeCap": "round"},
          "encoding": {
            "x": {"field": "t", "type": "quantitative", "title": null, "scale": {"domain": [0, 48], "nice": false, "zero": false}, "axis": {"values": [0, 4, 8, 12, 16, 20, 24, 28, 32, 36, 40, 44, 48], "offset": 20, "title": null}},
            "y": {"field": "v", "type": "quantitative", "title": null, "scale": {"domain": [-2.13, 112], "nice": false, "zero": false}, "axis": {"values": [0, 50, 100], "domain": false, "title": null, "labelFontSize": 12, "labelLineHeight": 12, "labelExpr": "datum.value == 100 ? ['100', '(CLE)'] : datum.value == 0 ? ['100', '(PHI)'] : '50'"}},
            "color": {"datum": "CLE Momentum", "type": "nominal", "scale": {"range": ["#3b82f6"]}, "legend": {"orient": "none", "legendX": 275, "legendY": 339, "direction": "horizontal", "title": null, "symbolType": "stroke", "symbolSize": 400, "symbolStrokeWidth": 3}}
          }
        }
      ]
    },
    {
      "width": 714,
      "height": 245,
      "layer": [
        {"data": {"values": [{}]}, "mark": {"type": "rect", "color": "#fdeaea"}, "encoding": {"x": {"datum": 0}, "x2": {"datum": 48}, "y": {"datum": 70}, "y2": {"datum": 100}}},
        {"data": {"values": [{}]}, "mark": {"type": "rect", "color": "#e7f6ec"}, "encoding": {"x": {"datum": 0}, "x2": {"datum": 48}, "y": {"datum": 0}, "y2": {"datum": 30}}},
        {"data": {"name": "breaks"}, "mark": {"type": "rule", "color": "#9ca3af", "strokeWidth": 1, "strokeDash": [5, 4]}, "encoding": {"x": {"field": "t", "type": "quantitative"}, "y": {"datum": 0}, "y2": {"datum": 100}}},
        {"data": {"values": [{}]}, "mark": {"type": "rule", "color": "#ef4444", "strokeWidth": 1.2, "strokeDash": [4, 3]}, "encoding": {"x": {"datum": 0}, "x2": {"datum": 48}, "y": {"datum": 70}}},
        {"data": {"values": [{}]}, "mark": {"type": "rule", "color": "#22c55e", "strokeWidth": 1.2, "strokeDash": [4, 3]}, "encoding": {"x": {"datum": 0}, "x2": {"datum": 48}, "y": {"datum": 30}}},
        {"data": {"values": [{}]}, "mark": {"type": "rule", "color": "#9ca3af", "strokeWidth": 1.2, "strokeDash": [4, 3]}, "encoding": {"x": {"datum": 0}, "x2": {"datum": 48}, "y": {"datum": 50}}},
        {"data": {"values": [{}]}, "mark": {"type": "text", "text": "RSI", "fontSize": 11, "fontWeight": 700, "color": "#111827", "align": "left", "baseline": "middle"}, "encoding": {"x": {"datum": -6.185}, "y": {"datum": 110.61}}},
        {"data": {"values": [{}]}, "mark": {"type": "text", "text": "9", "fontSize": 11, "fontWeight": 700, "color": "#06b6d4", "align": "left", "baseline": "middle"}, "encoding": {"x": {"datum": -4.7}, "y": {"datum": 110.61}}},
        {
          "data": {"name": "rsi"},
          "mark": {"type": "line", "strokeWidth": 3, "strokeJoin": "round", "strokeCap": "round"},
          "encoding": {
            "x": {"field": "t", "type": "quantitative", "title": null, "scale": {"domain": [0, 48], "nice": false, "zero": false}, "axis": {"values": [0, 4, 8, 12, 16, 20, 24, 28, 32, 36, 40, 44, 48], "title": null}},
            "y": {"field": "v", "type": "quantitative", "title": null, "scale": {"domain": [0, 100], "nice": false, "zero": false}, "axis": {"values": [0, 30, 50, 70, 100], "title": null, "labelBaseline": {"condition": {"test": "datum.value == 100", "value": "top"}, "value": "middle"}}},
            "color": {"datum": "Standard (9)", "type": "nominal", "scale": {"range": ["#06b6d4"]}, "legend": {"orient": "none", "legendX": 283.5, "legendY": 295, "direction": "horizontal", "title": null, "symbolType": "stroke", "symbolSize": 400, "symbolStrokeWidth": 3}}
          }
        }
      ]
    },
    {
      "width": 714,
      "height": 246,
      "layer": [
        {"data": {"values": [{}]}, "mark": {"type": "rule", "color": "#9ca3af", "strokeWidth": 1, "strokeDash": [4, 3]}, "encoding": {"x": {"datum": 0}, "x2": {"datum": 48}, "y": {"datum": 0}}},
        {"data": {"name": "breaks"}, "mark": {"type": "rule", "color": "#9ca3af", "strokeWidth": 1, "strokeDash": [5, 4]}, "encoding": {"x": {"field": "t", "type": "quantitative"}, "y": {"datum": -3}, "y2": {"datum": 2.5}}},
        {"data": {"values": [{}]}, "mark": {"type": "text", "text": "MACD (6/13/5)", "fontSize": 11, "fontWeight": 700, "color": "#111827", "align": "left", "baseline": "middle"}, "encoding": {"x": {"datum": -6.185}, "y": {"datum": 3.059}}},
        {
          "data": {"name": "hist"},
          "mark": {"type": "bar", "width": 2.4, "opacity": 0.9},
          "encoding": {
            "x": {"field": "t", "type": "quantitative", "scale": {"padding": 0}},
            "y": {"field": "h", "type": "quantitative"},
            "y2": {"datum": 0},
            "fill": {"field": "k", "type": "nominal", "scale": {"domain": ["Hist +", "Hist −"], "range": ["#22c55e", "#ef4444"]}, "legend": {"orient": "none", "legendX": 351, "legendY": 300, "direction": "horizontal", "title": null, "symbolType": "M -1 -0.6 Q -1 -1 -0.6 -1 L 0.6 -1 Q 1 -1 1 -0.6 L 1 0.6 Q 1 1 0.6 1 L -0.6 1 Q -1 1 -1 0.6 Z", "symbolSize": 144, "symbolStrokeWidth": 0, "symbolOpacity": 1, "columnPadding": 16}}
          }
        },
        {
          "data": {"name": "macd"},
          "mark": {"type": "line", "strokeWidth": 3, "interpolate": "monotone", "strokeJoin": "round", "strokeCap": "round"},
          "encoding": {
            "x": {"field": "t", "type": "quantitative", "title": null, "scale": {"domain": [0, 48], "nice": false, "zero": false, "padding": 0}, "axis": {"values": [0, 4, 8, 12, 16, 20, 24, 28, 32, 36, 40, 44, 48], "title": null}},
            "y": {"field": "v", "type": "quantitative", "title": null, "scale": {"domain": [-3, 2.5], "nice": false, "zero": false}, "axis": {"values": [-3, -1, 1, 2.5], "format": ".1f", "title": null, "labelBaseline": {"condition": {"test": "datum.value == 2.5", "value": "top"}, "value": "middle"}}},
            "stroke": {"field": "s", "type": "nominal", "scale": {"domain": ["MACD", "Signal"], "range": ["#3b82f6", "#f97316"]}, "legend": {"orient": "none", "legendX": 196.5, "legendY": 296, "direction": "horizontal", "title": null, "symbolType": "stroke", "symbolSize": 400, "symbolStrokeWidth": 3, "columnPadding": 7}}
          }
        }
      ]
    },
    {
      "width": 714,
      "height": 245,
      "layer": [
        {"data": {"values": [{}]}, "mark": {"type": "rect", "color": {"gradient": "linear", "x1": 0, "y1": 0, "x2": 0, "y2": 1, "stops": [{"offset": 0, "color": "#daf4e4"}, {"offset": 0.25, "color": "#ddf5e6"}, {"offset": 0.26, "color": "#e7f8ed"}, {"offset": 0.75, "color": "#f1fbf4"}, {"offset": 1, "color": "#ffffff"}]}}, "encoding": {"x": {"datum": 0}, "x2": {"datum": 48}, "y": {"datum": 30}, "y2": {"datum": 6}}},
        {"data": {"values": [{}]}, "mark": {"type": "rect", "color": {"gradient": "linear", "x1": 0, "y1": 0, "x2": 0, "y2": 1, "stops": [{"offset": 0, "color": "#ffffff"}, {"offset": 0.25, "color": "#fdf1f1"}, {"offset": 0.74, "color": "#fdeaea"}, {"offset": 0.75, "color": "#fee2e2"}, {"offset": 1, "color": "#fde0e0"}]}}, "encoding": {"x": {"datum": 0}, "x2": {"datum": 48}, "y": {"datum": -6}, "y2": {"datum": -30}}},
        {"data": {"values": [{}]}, "mark": {"type": "rule", "color": "#22c55e", "strokeWidth": 1.2, "strokeDash": [4, 3]}, "encoding": {"x": {"datum": 0}, "x2": {"datum": 48}, "y": {"datum": 24}}},
        {"data": {"values": [{}]}, "mark": {"type": "rule", "color": "#22c55e", "strokeWidth": 1.2, "strokeDash": [7, 4]}, "encoding": {"x": {"datum": 0}, "x2": {"datum": 48}, "y": {"datum": 12}}},
        {"data": {"values": [{}]}, "mark": {"type": "rule", "color": "#4ade80", "strokeWidth": 1.5, "strokeDash": [2, 3]}, "encoding": {"x": {"datum": 0}, "x2": {"datum": 48}, "y": {"datum": 6}}},
        {"data": {"values": [{}]}, "mark": {"type": "rule", "color": "#9ca3af", "strokeWidth": 2, "strokeDash": [3, 3]}, "encoding": {"x": {"datum": 0}, "x2": {"datum": 48}, "y": {"datum": 0}}},
        {"data": {"values": [{}]}, "mark": {"type": "rule", "color": "#f87171", "strokeWidth": 1.5, "strokeDash": [2, 3]}, "encoding": {"x": {"datum": 0}, "x2": {"datum": 48}, "y": {"datum": -6}}},
        {"data": {"values": [{}]}, "mark": {"type": "rule", "color": "#ef4444", "strokeWidth": 1.2, "strokeDash": [7, 4]}, "encoding": {"x": {"datum": 0}, "x2": {"datum": 48}, "y": {"datum": -12}}},
        {"data": {"values": [{}]}, "mark": {"type": "rule", "color": "#ef4444", "strokeWidth": 1.2, "strokeDash": [4, 3]}, "encoding": {"x": {"datum": 0}, "x2": {"datum": 48}, "y": {"datum": -24}}},
        {"data": {"name": "breaks"}, "mark": {"type": "rule", "color": "#9ca3af", "strokeWidth": 1, "strokeDash": [5, 4]}, "encoding": {"x": {"field": "t", "type": "quantitative"}, "y": {"datum": -30}, "y2": {"datum": 30}}},
        {"data": {"values": [{}]}, "mark": {"type": "text", "text": "Spread Deviation (Actual Margin vs Spread) | Line: -14.5", "fontSize": 11.3, "fontWeight": 700, "color": "#111827", "align": "left", "baseline": "middle"}, "encoding": {"x": {"datum": -6.185}, "y": {"datum": 35.73}}},
        {
          "data": {"name": "dev"},
          "mark": {"type": "line", "strokeWidth": 3, "strokeJoin": "round", "strokeCap": "round"},
          "encoding": {
            "x": {"field": "t", "type": "quantitative", "title": null, "scale": {"domain": [0, 48], "nice": false, "zero": false}, "axis": {"values": [0, 4, 8, 12, 16, 20, 24, 28, 32, 36, 40, 44, 48], "title": null}},
            "y": {"field": "v", "type": "quantitative", "title": null, "scale": {"domain": [-30, 30], "nice": false, "zero": false}, "axis": {"values": [-24, -12, 0, 12, 24], "title": null, "labelFontSize": 8.5, "labelLineHeight": 8, "labelExpr": "datum.value == 24 ? ['+2σ', '(+24)'] : datum.value == 12 ? ['+1σ', '(+12)'] : datum.value == 0 ? '0σ (0)' : datum.value == -12 ? ['-1σ', '(-12)'] : ['-2σ', '(-24)']"}},
            "stroke": {"datum": "Deviation", "type": "nominal", "scale": {"range": ["#06b6d4"]}, "legend": {"orient": "none", "legendX": 237.5, "legendY": 295.7, "direction": "horizontal", "title": null, "symbolType": "stroke", "symbolSize": 400, "symbolStrokeWidth": 3}}
          }
        },
        {
          "data": {"values": []},
          "mark": {"type": "point", "filled": true, "opacity": 1},
          "encoding": {
            "x": {"field": "t", "type": "quantitative"},
            "y": {"field": "v", "type": "quantitative"},
            "fill": {"field": "band", "type": "nominal", "scale": {"domain": ["±1σ", "±2σ"], "range": ["#22c55e", "#16a34a"]}, "legend": {"orient": "none", "legendX": 333, "legendY": 300.7, "direction": "horizontal", "title": null, "symbolSize": 100, "symbolStrokeWidth": 0, "symbolOpacity": 1, "columnPadding": 10, "labelOffset": 6}},
            "shape": {"field": "band", "type": "nominal", "scale": {"domain": ["±1σ", "±2σ"], "range": ["circle", "M -1.34 0 A 1.34 1.34 0 1 1 1.34 0 A 1.34 1.34 0 1 1 -1.34 0 Z M -0.88 0 A 0.88 0.88 0 1 0 0.88 0 A 0.88 0.88 0 1 0 -0.88 0 Z M -0.48 0 A 0.48 0.48 0 1 1 0.48 0 A 0.48 0.48 0 1 1 -0.48 0 Z"]}, "legend": {"orient": "none", "legendX": 333, "legendY": 300.7, "direction": "horizontal", "title": null, "symbolSize": 100, "symbolStrokeWidth": 0, "symbolOpacity": 1, "columnPadding": 10, "labelOffset": 6}}
          }
        },
        {"data": {"values": [{}]}, "mark": {"type": "text", "text": "461 plays tracked • Hover over the chart for details", "fontSize": 10, "color": "#9ca3af", "align": "center", "baseline": "middle"}, "encoding": {"x": {"datum": 22.3193}, "y": {"datum": -52.41}}},
        {"data": {"values": [{}]}, "mark": {"type": "rule", "color": "#e5e7eb", "strokeWidth": 1}, "encoding": {"x": {"datum": -6.7227}, "x2": {"datum": 51.3613}, "y": {"datum": -66.73}}},
        {"data": {"values": [{}]}, "mark": {"type": "point", "filled": true, "color": "#111111", "opacity": 1, "size": 900, "shape": "M 1 -1 L 0.25 -1 Q -0.3 -1 -0.42 -0.45 L -0.62 0.55 L -0.32 0.55 L -0.16 -0.3 Q -0.08 -0.72 0.35 -0.72 L 0.9 -0.72 Z"}, "encoding": {"x": {"datum": 43.55}, "y": {"datum": -74.2}}},
        {"data": {"values": [{}]}, "mark": {"type": "point", "filled": true, "color": "#16a34a", "opacity": 1, "size": 900, "shape": "M -1 1 L -0.25 1 Q 0.15 1 0.24 0.55 L 0.36 -0.05 L 0.08 -0.05 L -0.02 0.45 Q -0.08 0.74 -0.42 0.74 L -0.86 0.74 Z"}, "encoding": {"x": {"datum": 43.3}, "y": {"datum": -74.2}}},
        {"data": {"values": [{}]}, "mark": {"type": "text", "text": "SPORT", "fontSize": 15, "fontWeight": 900, "fontStyle": "italic", "font": "DejaVu Sans", "color": "#111111", "align": "right", "baseline": "middle"}, "encoding": {"x": {"datum": 50.15}, "y": {"datum": -72.49}}},
        {"data": {"values": [{}]}, "mark": {"type": "text", "text": "CHARTZ", "fontSize": 15, "fontWeight": 900, "fontStyle": "italic", "font": "DejaVu Sans", "color": "#16a34a", "align": "right", "baseline": "middle"}, "encoding": {"x": {"datum": 49.61}, "y": {"datum": -76.9}}},
        {"data": {"values": [{}]}, "mark": {"type": "text", "text": "SportChartz is an analytics and entertainment platform.", "fontSize": 10, "color": "#9ca3af", "align": "center", "baseline": "middle"}, "encoding": {"x": {"datum": 22.3193}, "y": {"datum": -87.8}}},
        {"data": {"values": [{}]}, "mark": {"type": "text", "text": "Does not accept or place wagers. 18+ only.", "fontSize": 10, "color": "#9ca3af", "align": "center", "baseline": "middle"}, "encoding": {"x": {"datum": 22.3193}, "y": {"datum": -91.96}}},
        {"data": {"values": [{}]}, "mark": {"type": "text", "text": "Privacy  |  Terms  |  Cookies", "fontSize": 10, "color": "#9ca3af", "align": "center", "baseline": "middle"}, "encoding": {"x": {"datum": 22.3193}, "y": {"datum": -97.36}}},
        {"data": {"values": [{}]}, "mark": {"type": "text", "text": "©2026 SportChartz", "fontSize": 10, "color": "#9ca3af", "align": "center", "baseline": "middle"}, "encoding": {"x": {"datum": 22.3193}, "y": {"datum": -103.0}}}
      ]
    }
  ]
}
